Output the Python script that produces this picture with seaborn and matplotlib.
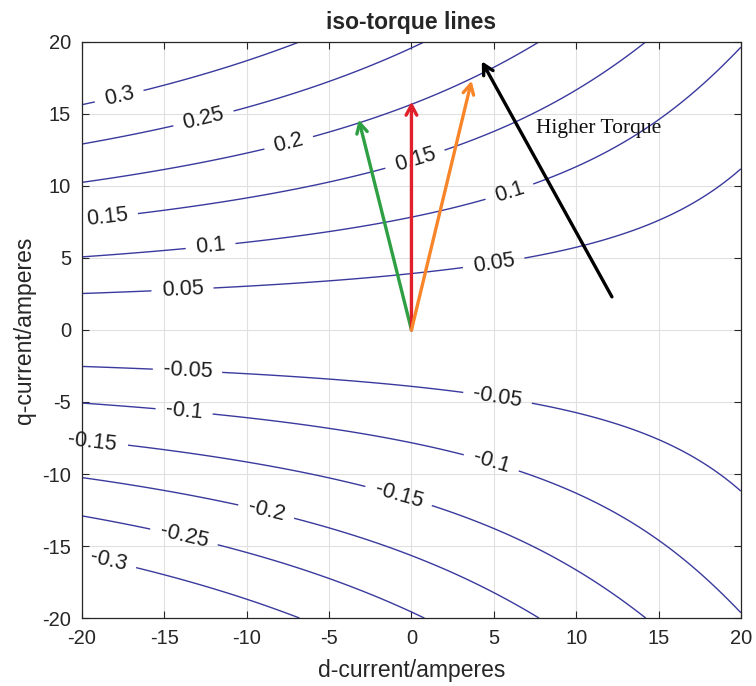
import numpy as np
import matplotlib
matplotlib.use("Agg")
import matplotlib.pyplot as plt
import seaborn as sns

# ---- data ----
levels = [-0.3, -0.25, -0.2, -0.15, -0.1, -0.05, 0.05, 0.1, 0.15, 0.2, 0.25, 0.3]
# torque model coefficients (T = iq*(a + b*id + c*id^2 + d*id*iq^2)), fitted to the picture
coef_a = 0.01277
coef_b = -0.00039
coef_c = -2.0e-6
coef_d = 1.2e-7
id_range = [-20, 20]
iq_range = [-20, 20]

label_x = [-17.8, -12.65, -7.5, -18.5, 0.2, -12.2, 6.0, -13.9, 5.0,
           -13.6, 5.2, -13.8, 4.8, -19.3, -0.8, -8.9, -13.9, -18.5]
label_y = [16.5, 14.8, 13.2, 8.1, 11.9, 5.9, 9.4, 2.8, 4.6,
           -2.9, -4.9, -5.6, -9.4, -7.8, -11.6, -13.0, -14.8, -16.5]

arrow_tail_x = [0, 0, 0, 12.17]
arrow_tail_y = [0, 0, 0, 2.3]
arrow_tip_x = [-3.2, 0.0, 3.65, 4.27]
arrow_tip_y = [14.6, 15.85, 17.3, 18.65]
arrow_colors = ["#2ea043", "#e0202a", "#f7852a", "#000000"]

note_text = "Higher Torque"
note_x, note_y = 7.55, 14.0

title = "iso-torque lines"
xlabel = "d-current/amperes"
ylabel = "q-current/amperes"
ticks = [-20, -15, -10, -5, 0, 5, 10, 15, 20]

# ---- style ----
sns.set_theme(style="whitegrid")
plt.rcParams["font.family"] = ["Liberation Sans", "DejaVu Sans"]
plt.rcParams["axes.unicode_minus"] = False

fig = plt.figure(figsize=(7.56, 6.86), dpi=100)
ax = fig.add_axes([0.1085, 0.099, 0.8715, 0.84])

idv = np.linspace(id_range[0], id_range[1], 401)
iqv = np.linspace(iq_range[0], iq_range[1], 401)
ID, IQ = np.meshgrid(idv, iqv)
T = IQ * (coef_a + coef_b * ID + coef_c * ID**2 + coef_d * ID * IQ**2)

cs = ax.contour(ID, IQ, T, levels=levels, colors="#3a3a9e", linewidths=1.0,
                linestyles="solid")
texts = ax.clabel(cs, fmt="%g", fontsize=15.5, inline=True, inline_spacing=10,
                  colors="#1e1e1e", manual=list(zip(label_x, label_y)))
for t in texts:
    t.set_clip_on(False)
    if t.get_text() == "-0.15":
        x, y = t.get_position()
        if x < -15:
            t.set_position((-19.4, -7.8))

for tx, ty, hx, hy, c in zip(arrow_tail_x, arrow_tail_y, arrow_tip_x, arrow_tip_y, arrow_colors):
    ax.annotate("", xy=(hx, hy), xytext=(tx, ty),
                arrowprops=dict(arrowstyle="->,head_length=0.6,head_width=0.32",
                                color=c, lw=2.4, shrinkA=0, shrinkB=0),
                zorder=5)

ax.text(note_x, note_y, note_text, fontsize=15.5, family=["Liberation Serif", "DejaVu Serif"],
        va="center", ha="left", color="#111111")

ax.set_xlim(id_range)
ax.set_ylim(iq_range)
ax.set_xticks(ticks)
ax.set_yticks(ticks)
ax.tick_params(labelsize=14.5, colors="#262626", direction="in", length=5, width=0.8,
               top=True, right=True, bottom=True, left=True, pad=8)
ax.grid(True, color="#e0e0e0", linewidth=0.8)
ax.set_facecolor("white")
for s in ax.spines.values():
    s.set_color("#262626")
    s.set_linewidth(0.9)
ax.set_title(title, fontsize=16.5, fontweight="bold", pad=9)
ax.set_xlabel(xlabel, fontsize=16.5, color="#262626", labelpad=8)
ax.set_ylabel(ylabel, fontsize=16.5, color="#262626", labelpad=4)

fig.savefig("out.png", dpi=100, facecolor="white")
